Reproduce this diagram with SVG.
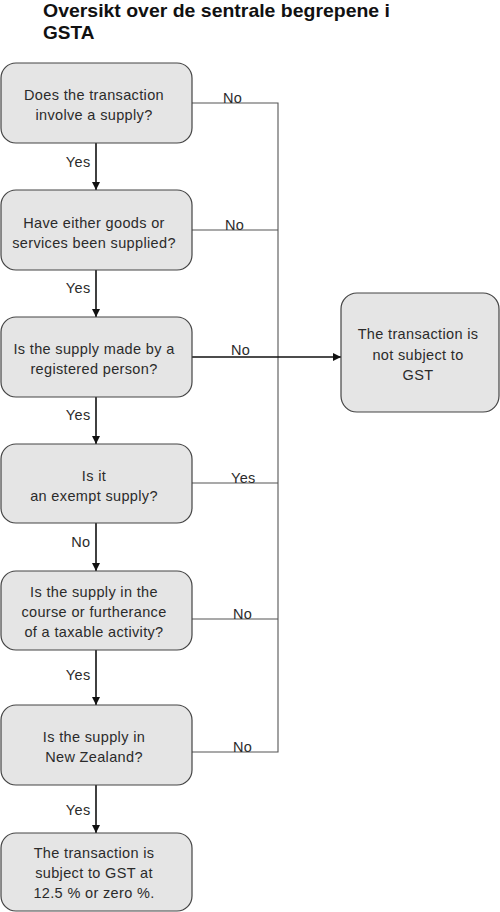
<svg xmlns="http://www.w3.org/2000/svg" width="500" height="912" viewBox="0 0 500 912">
<style>
.box{fill:#e5e5e5;stroke:#444;stroke-width:1.2}
.t{font-family:"Liberation Sans",Arial,sans-serif;font-size:14.5px;letter-spacing:0.35px;fill:#2b2b2b;text-anchor:middle}
.lbl{font-family:"Liberation Sans",Arial,sans-serif;font-size:14.5px;letter-spacing:0.35px;fill:#2b2b2b}
.end{text-anchor:end}
.title{font-family:"Liberation Sans",Arial,sans-serif;font-size:19px;font-weight:bold;fill:#111}
.thin{fill:none;stroke:#555;stroke-width:1.1}
.flow{fill:none;stroke:#111;stroke-width:1.6}
</style>
<defs>
<marker id="ah" markerUnits="userSpaceOnUse" markerWidth="9" markerHeight="9" refX="8" refY="4" orient="auto">
<path d="M0,0 L8,4 L0,8 z" fill="#111"/>
</marker>
</defs>
<g id="title">
<text class="title" x="43" y="17" textLength="347" lengthAdjust="spacingAndGlyphs">Oversikt over de sentrale begrepene i</text>
<text class="title" x="43" y="39">GSTA</text>
</g>
<g id="connectors">
<path class="thin" d="M192,103 H278 V752 H192"/>
<path class="thin" d="M192,230 H278"/>
<path class="thin" d="M192,483 H278"/>
<path class="thin" d="M192,619 H278"/>
<line class="flow" x1="192" y1="357" x2="341" y2="357" marker-end="url(#ah)"/>
<line class="flow" x1="96" y1="143" x2="96" y2="190" marker-end="url(#ah)"/>
<line class="flow" x1="96" y1="270" x2="96" y2="317" marker-end="url(#ah)"/>
<line class="flow" x1="96" y1="397" x2="96" y2="444" marker-end="url(#ah)"/>
<line class="flow" x1="96" y1="523" x2="96" y2="571" marker-end="url(#ah)"/>
<line class="flow" x1="96" y1="650" x2="96" y2="705" marker-end="url(#ah)"/>
<line class="flow" x1="96" y1="785" x2="96" y2="833" marker-end="url(#ah)"/>
<text class="lbl" x="223" y="103">No</text>
<text class="lbl" x="225" y="230">No</text>
<text class="lbl" x="231" y="355">No</text>
<text class="lbl" x="231" y="483">Yes</text>
<text class="lbl" x="233" y="619">No</text>
<text class="lbl" x="233" y="752">No</text>
<text class="lbl end" x="90.5" y="167">Yes</text>
<text class="lbl end" x="90.5" y="293">Yes</text>
<text class="lbl end" x="90.5" y="420">Yes</text>
<text class="lbl end" x="90.5" y="547">No</text>
<text class="lbl end" x="90.5" y="680">Yes</text>
<text class="lbl end" x="90.5" y="815">Yes</text>
</g>
<g id="n1">
<rect class="box" x="1" y="63" width="191" height="80" rx="15"/>
<text class="t" x="94" y="100">Does the transaction</text>
<text class="t" x="94" y="120">involve a supply?</text>
</g>
<g id="n2">
<rect class="box" x="1" y="190" width="191" height="80" rx="15"/>
<text class="t" x="94" y="228">Have either goods or</text>
<text class="t" x="94" y="248">services been supplied?</text>
</g>
<g id="n3">
<rect class="box" x="1" y="317" width="191" height="80" rx="15"/>
<text class="t" x="94" y="354">Is the supply made by a</text>
<text class="t" x="94" y="374">registered person?</text>
</g>
<g id="n4">
<rect class="box" x="1" y="444" width="191" height="79" rx="15"/>
<text class="t" x="94" y="481">Is it</text>
<text class="t" x="94" y="501">an exempt supply?</text>
</g>
<g id="n5">
<rect class="box" x="1" y="571" width="191" height="79" rx="15"/>
<text class="t" x="94" y="597">Is the supply in the</text>
<text class="t" x="94" y="617">course or furtherance</text>
<text class="t" x="94" y="637">of a taxable activity?</text>
</g>
<g id="n6">
<rect class="box" x="1" y="705" width="191" height="80" rx="15"/>
<text class="t" x="94" y="742">Is the supply in</text>
<text class="t" x="94" y="762">New Zealand?</text>
</g>
<g id="n7">
<rect class="box" x="1" y="833" width="191" height="78" rx="15"/>
<text class="t" x="94" y="858">The transaction is</text>
<text class="t" x="94" y="878">subject to GST at</text>
<text class="t" x="94" y="898">12.5 % or zero %.</text>
</g>
<g id="n8">
<rect class="box" x="341" y="293" width="158" height="119" rx="16"/>
<text class="t" x="418" y="339">The transaction is</text>
<text class="t" x="418" y="360">not subject to</text>
<text class="t" x="418" y="380">GST</text>
</g>
</svg>
